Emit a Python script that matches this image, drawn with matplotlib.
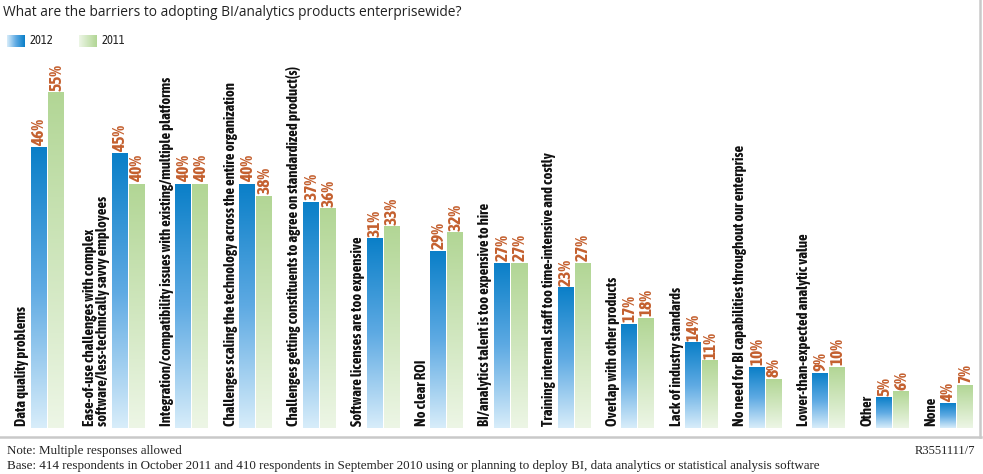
import numpy as np
import matplotlib
matplotlib.use('Agg')
import matplotlib.pyplot as plt
from matplotlib.colors import LinearSegmentedColormap
from matplotlib.lines import Line2D

categories = [
    'Data quality problems',
    'Ease-of-use challenges with complex\nsoftware/less-technically savvy employees',
    'Integration/compatibility issues with existing/multiple platforms',
    'Challenges scaling the technology across the entire organization',
    'Challenges getting constituents to agree on standardized product(s)',
    'Software licenses are too expensive',
    'No clear ROI',
    'BI/analytics talent is too expensive to hire',
    'Training internal staff too time-intensive and costly',
    'Overlap with other products',
    'Lack of industry standards',
    'No need for BI capabilities throughout our enterprise',
    'Lower-than-expected analytic value',
    'Other',
    'None',
]
y2012 = [46, 45, 40, 40, 37, 31, 29, 27, 23, 17, 14, 10, 9, 5, 4]
y2011 = [55, 40, 40, 38, 36, 33, 32, 27, 27, 18, 11, 8, 10, 6, 7]
years = ['2012', '2011']

narrow = ['Asap Condensed', 'Barlow Semi Condensed', 'DejaVu Sans']
serif = ['Liberation Serif', 'DejaVu Serif']

W, H = 983, 474
fig = plt.figure(figsize=(W / 100, H / 100), dpi=100)
fig.patch.set_facecolor('white')

# axes in pixel-like x units, baseline at y=428px
ax = fig.add_axes([0, 46 / H, 1, 366 / H])

blue = LinearSegmentedColormap.from_list('b', ['#d8edfa', '#5eaae3', '#0a7fc8'])
green = LinearSegmentedColormap.from_list('g', ['#edf6e6', '#cfe6bd', '#b2d695'])
grad = np.linspace(0, 1, 256).reshape(-1, 1)

bw = 16
step = 63.7
line_w = 17
x0 = 31.0
extra = 0
for i, lab in enumerate(categories):
    extra += lab.count('\n') * line_w
    xb = x0 + step * i + extra
    xg = xb + bw + 1
    for xx, v, cm in [(xb, y2012[i], blue), (xg, y2011[i], green)]:
        ax.imshow(grad, extent=[xx, xx + bw, 0, v], origin='lower',
                  aspect='auto', cmap=cm, interpolation='bilinear')
        ax.text(xx + bw / 2 + 0.5, v + 0.3, f'{v}%', rotation=90, ha='center',
                va='bottom', color='#c4602f', fontsize=12.5, fontweight='bold',
                family=narrow)
    ax.text(xb - 1.5, 0.3, lab, rotation=90, ha='right', va='bottom',
            fontsize=10.5, fontweight='bold', family=narrow, color='#111111',
            multialignment='left', linespacing=0.95)

ax.set_xlim(0, W)
ax.set_ylim(0, 60)
ax.axis('off')

# title
fig.text(3 / W, 1 - 13 / H,
         'What are the barriers to adopting BI/analytics products enterprisewide?',
         fontsize=9.9, color='#222222', va='center', family=['Open Sans', 'DejaVu Sans'])

# legend
for j, (cm, xs) in enumerate([(blue, 7), (green, 79)]):
    lax = fig.add_axes([xs / W, 1 - 47 / H, 18 / W, 12 / H])
    lax.imshow(np.linspace(0, 1, 64).reshape(1, -1), aspect='auto', cmap=cm,
               interpolation='bilinear')
    lax.axis('off')
    fig.text((xs + 23) / W, 1 - 41 / H, years[j], fontsize=9,
             family=narrow, va='center', color='#222222')

# frame
fig.add_artist(Line2D([980 / W, 980 / W], [1 - 437 / H, 1], color='#c9c9c9',
                      lw=1.8, transform=fig.transFigure))
fig.add_artist(Line2D([0, 981 / W], [1 - 437 / H, 1 - 437 / H], color='#c9c9c9',
                      lw=1.8, transform=fig.transFigure))

# footer
fig.text(7 / W, 1 - 451 / H, 'Note: Multiple responses allowed', fontsize=9.4,
         family=serif, va='center', color='#222222')
fig.text(7 / W, 1 - 466 / H,
         'Base: 414 respondents in October 2011 and 410 respondents in September 2010 '
         'using or planning to deploy BI, data analytics or statistical analysis software',
         fontsize=9.4, family=serif, va='center', color='#222222')
fig.text(975 / W, 1 - 451 / H, 'R3551111/7', fontsize=9, family=serif,
         va='center', ha='right', color='#222222')

fig.savefig('out.png', dpi=100)
